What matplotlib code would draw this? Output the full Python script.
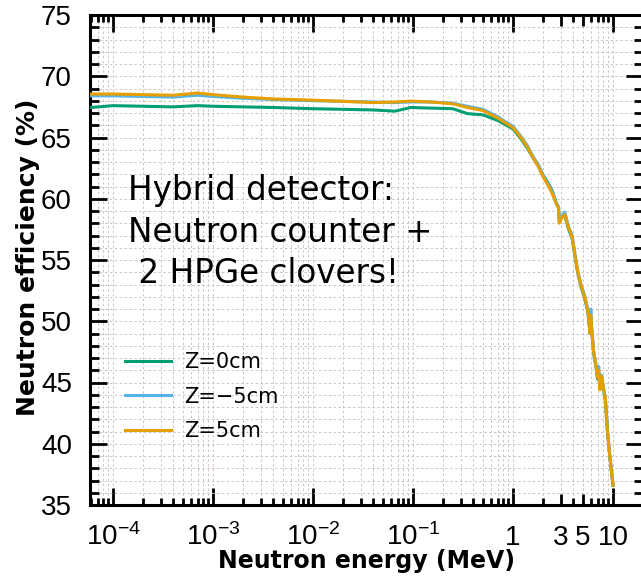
import numpy as np
import matplotlib
matplotlib.use("Agg")
import matplotlib.pyplot as plt
from matplotlib.ticker import LogLocator, MultipleLocator, NullFormatter

plt.rcParams['font.family'] = ['DejaVu Sans']
plt.rcParams['mathtext.fontset'] = 'custom'
plt.rcParams['mathtext.rm'] = 'Liberation Sans'
plt.rcParams['mathtext.default'] = 'rm'

# neutron energy grid (MeV)
energy = [6e-5, 1e-4, 2e-4, 4e-4, 7e-4, 1e-3, 2e-3, 4e-3, 1e-2, 2e-2, 4e-2,
          6.6e-2, 9.5e-2, 0.15, 0.25, 0.35, 0.5, 0.7, 1.0, 1.2, 1.4, 1.6,
          1.8, 2.0, 2.2, 2.45, 2.7, 2.85, 2.9, 3.1, 3.3, 3.6, 3.9, 4.2, 4.5,
          4.8, 5.2, 5.6, 5.9, 6.0, 6.1, 6.4, 6.8, 7.0, 7.2, 7.4, 7.7, 8.0,
          8.4, 8.8, 9.2, 9.6, 10.0]

# efficiency (%) for each source position
eff_z0 = [67.45, 67.6, 67.55, 67.5, 67.6, 67.55, 67.5, 67.45, 67.35, 67.3, 67.25,
          67.15, 67.45, 67.4, 67.35, 66.95, 66.85, 66.4, 65.7, 64.9, 64.1, 63.3,
          62.7, 61.9, 61.4, 60.7, 59.7, 59.3, 58.3, 58.6, 58.6, 57.5, 56.8, 55.1, 53.7,
          52.8, 51.9, 50.8, 49.0, 50.3, 49.4, 47.4, 46.1, 45.3, 45.8, 44.5, 45.3, 44.5,
          43.5, 41.0, 39.3, 37.9, 36.6]
eff_zm5 = [68.4, 68.4, 68.35, 68.3, 68.45, 68.35, 68.2, 68.1, 68.0, 67.95, 67.9,
           67.85, 67.9, 67.9, 67.8, 67.55, 67.3, 66.7, 65.9, 65.1, 64.3, 63.4,
           62.7, 61.9, 61.3, 60.6, 59.7, 59.3, 58.2, 58.6, 58.9, 57.7, 57.0, 55.3, 53.9,
           53.0, 52.1, 51.0, 49.1, 51.0, 49.6, 47.6, 46.3, 45.5, 46.3, 44.5, 45.6, 44.7,
           43.7, 41.1, 39.4, 38.0, 36.7]
eff_z5 = [68.55, 68.55, 68.5, 68.45, 68.63, 68.5, 68.3, 68.15, 68.05, 67.95, 67.85,
          67.9, 67.97, 67.9, 67.75, 67.45, 67.2, 66.6, 65.8, 65.0, 64.2, 63.3,
          62.6, 61.8, 61.2, 60.5, 59.6, 59.2, 58.0, 58.5, 58.7, 57.6, 56.9, 55.2, 53.8,
          52.9, 52.0, 50.9, 49.0, 50.5, 49.5, 47.5, 46.2, 45.4, 46.0, 44.4, 45.5, 44.6,
          43.6, 41.0, 39.3, 37.9, 36.6]

series = [("Z=0cm", eff_z0, "#009E73"),
          ("Z=\u22125cm", eff_zm5, "#56B4E9"),
          ("Z=5cm", eff_z5, "#E69F00")]

major_x = [1e-4, 1e-3, 1e-2, 1e-1, 1, 3, 5, 10]
major_x_labels = [r'$10^{-4}$', r'$10^{-3}$', r'$10^{-2}$', r'$10^{-1}$',
                  '1', '3', '5', '10']

fig = plt.figure(figsize=(6.41, 5.77), dpi=100)
ax = fig.add_axes([90 / 641, 72 / 577, 553 / 641, 490 / 577])

for label, eff, color in series:
    ax.plot(energy, eff, color=color, lw=2.2, label=label, zorder=3)

ax.set_xscale('log')
ax.set_xlim(10 ** -4.23, 10 ** 1.30)
ax.set_ylim(35, 75)

ax.set_xticks(major_x, major_x_labels)
ax.xaxis.set_minor_locator(LogLocator(base=10, subs=np.arange(2, 10), numticks=20))
ax.xaxis.set_minor_formatter(NullFormatter())
ax.yaxis.set_major_locator(MultipleLocator(5))
ax.yaxis.set_minor_locator(MultipleLocator(1))

ax.tick_params(which='both', direction='in', top=True, right=True, width=2.0,
               labelsize=20, labelfontfamily='Liberation Sans')
ax.tick_params(which='major', length=12)
ax.tick_params(which='minor', length=5)
ax.tick_params(axis='y', which='minor', length=6.5)
ax.tick_params(axis='y', pad=13)
ax.tick_params(axis='x', pad=29)

for tick, loc in zip(ax.xaxis.get_major_ticks(), major_x):
    tick.label1.set_va('baseline')
    if loc in (3, 5):
        tick.tick1line.set_markersize(8)
        tick.tick2line.set_markersize(8)

for side in ax.spines.values():
    side.set_linewidth(2.2)

ax.grid(which='both', color='#cdc3c3', linestyle=(0, (2.5, 2.5)), linewidth=0.7, zorder=0)
ax.set_axisbelow(True)

ax.set_xlabel('Neutron energy (MeV)', fontsize=17, fontweight='bold')
ax.set_ylabel('Neutron efficiency (%)', fontsize=18, fontweight='bold')
ax.xaxis.set_label_coords(0.5, -0.09)
ax.yaxis.set_label_coords(-0.09, 0.505)

ax.text(0.069, 0.675, 'Hybrid detector:\nNeutron counter +\n 2 HPGe clovers!',
        transform=ax.transAxes, fontsize=23.5, va='top', ha='left', linespacing=1.33)

ax.legend(loc='upper left', bbox_to_anchor=(0.064, 0.312), frameon=False,
          fontsize=15, handlelength=2.2, handletextpad=0.6, labelspacing=0.7,
          borderpad=0, borderaxespad=0)

fig.savefig('out.png', dpi=100)
